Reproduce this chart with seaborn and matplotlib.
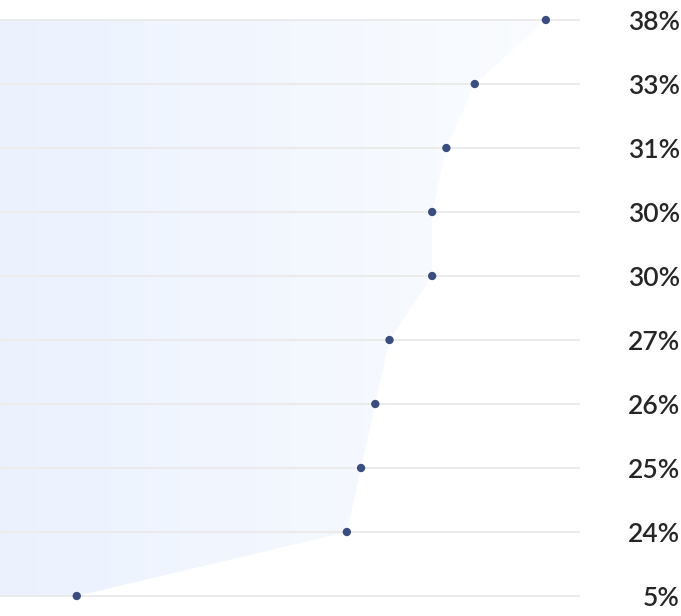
import numpy as np
import pandas as pd
import matplotlib
matplotlib.use("Agg")
import matplotlib.pyplot as plt
import seaborn as sns
from matplotlib.patches import Polygon
from matplotlib.colors import LinearSegmentedColormap

# Share values, top to bottom
values = [38, 33, 31, 30, 30, 27, 26, 25, 24, 5]
labels = ["38%", "33%", "31%", "30%", "30%", "27%", "26%", "25%", "24%", "5%"]
rank = list(range(len(values)))

df = pd.DataFrame({"rank": rank, "value": values, "label": labels})

sns.set_theme(style="white")
plt.rcParams["font.family"] = ["Lato", "DejaVu Sans"]

W, H = 681, 616
fig = plt.figure(figsize=(W / 100, H / 100), dpi=100)
fig.patch.set_facecolor("white")

plot_right = 580 / W
ax = fig.add_axes([0, 0, plot_right, 1])
ax.set_facecolor("white")

x0, x1 = -0.4, 40.4
pad = 20 / 64
ax.set_xlim(x0, x1)
ax.set_ylim(len(values) - 1 + pad, -pad)

# horizontal guide lines
for r in rank:
    ax.axhline(r, color="#ebebeb", lw=1.5, zorder=2)

# area between the left edge and the series, with a soft horizontal gradient
verts = [(x0, rank[0])] + list(zip(values, rank)) + [(x0, rank[-1])]
poly = Polygon(verts, closed=True, facecolor="none", edgecolor="none")
ax.add_patch(poly)
cmap = LinearSegmentedColormap.from_list("fade", ["#ebf2fe", "#fafcff"])
grad = np.linspace(0, 1, 256).reshape(1, -1)
im = ax.imshow(grad, cmap=cmap, aspect="auto",
               extent=[x0, max(values), rank[-1], rank[0]], zorder=1)
im.set_clip_path(poly)

sns.scatterplot(data=df, x="value", y="rank", ax=ax, color="#3b4d7e",
                s=36, edgecolor="none", zorder=4, legend=False)

ax.set_xlim(x0, x1)
ax.set_ylim(len(values) - 1 + pad, -pad)
ax.axis("off")

# value labels at the right
for r, lab in zip(rank, labels):
    fig.text(680 / W, 1 - (20 + 64 * r) / H, lab, ha="right", va="center_baseline",
             fontsize=19, color="#262626", fontweight="semibold")

fig.savefig("out.png", dpi=100, facecolor="white")
